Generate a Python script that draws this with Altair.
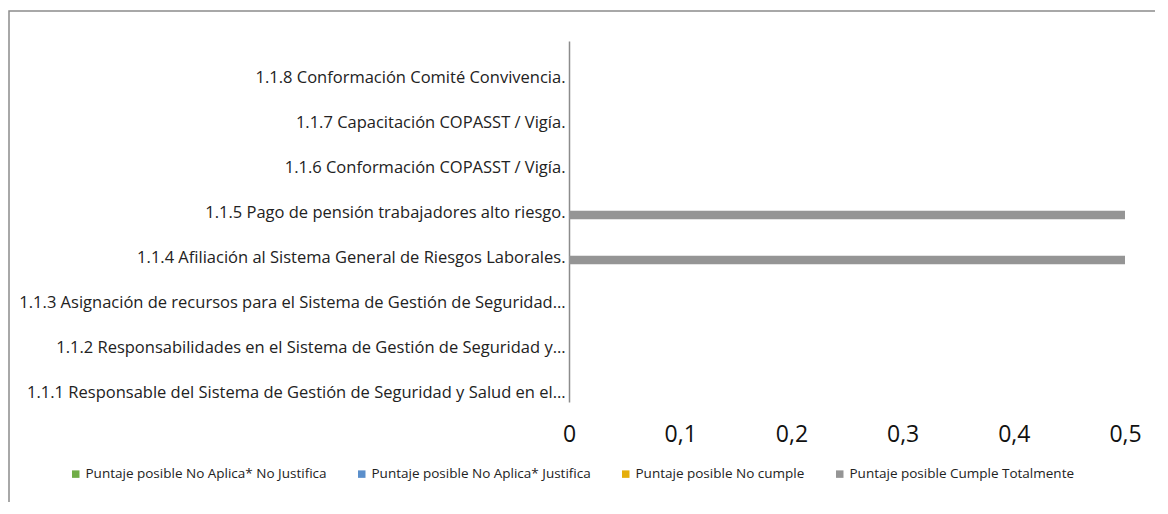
import altair as alt
import pandas as pd

categories = [
    "1.1.8 Conformación Comité Convivencia.",
    "1.1.7 Capacitación COPASST / Vigía.",
    "1.1.6 Conformación COPASST / Vigía.",
    "1.1.5 Pago de pensión trabajadores alto riesgo.",
    "1.1.4 Afiliación al Sistema General de Riesgos Laborales.",
    "1.1.3 Asignación de recursos para el Sistema de Gestión de Seguridad…",
    "1.1.2 Responsabilidades en el Sistema de Gestión de Seguridad y…",
    "1.1.1 Responsable del Sistema de Gestión de Seguridad y Salud en el…",
]
series = [
    "Puntaje posible No Aplica* No Justifica",
    "Puntaje posible No Aplica* Justifica",
    "Puntaje posible No cumple",
    "Puntaje posible Cumple Totalmente",
]
no_aplica_no_justifica = [0, 0, 0, 0, 0, 0, 0, 0]
no_aplica_justifica = [0, 0, 0, 0, 0, 0, 0, 0]
no_cumple = [0, 0, 0, 0, 0, 0, 0, 0]
cumple_totalmente = [0, 0, 0, 0.5, 0.5, 0, 0, 0]
x_ticks = [0, 0.1, 0.2, 0.3, 0.4, 0.5]
colors = ["#70AD47", "#5B8FCB", "#E5AE0B", "#959595"]

values = [no_aplica_no_justifica, no_aplica_justifica, no_cumple, cumple_totalmente]
rows = []
for s, vals in zip(series, values):
    for c, v in zip(categories, vals):
        rows.append({"cat": c, "series": s, "value": v})
df = pd.DataFrame(rows)

FONT = "Open Sans"

bars = alt.Chart(df).mark_bar().encode(
    y=alt.Y("cat:N", sort=categories,
            scale=alt.Scale(paddingInner=0.1, paddingOuter=0.05),
            axis=alt.Axis(title=None, ticks=False, grid=False, domainColor="#8c8c8c",
                          domainWidth=1.5, labelFont=FONT, labelFontSize=16.5,
                          labelColor="#222222", labelOffset=14, labelPadding=4,
                          labelLimit=600)),
    yOffset=alt.YOffset("series:N", sort=series,
                        scale=alt.Scale(domain=series, paddingInner=0.2, paddingOuter=0)),
    x=alt.X("value:Q", scale=alt.Scale(domain=[0, 0.5], nice=False),
            axis=alt.Axis(title=None, values=x_ticks, domain=False,
                          ticks=False, grid=False, labelFont=FONT, labelFontSize=23,
                          labelColor="#111111", labelPadding=21, labelFlush=False,
                          labelExpr="replace(format(datum.value, '~g'), '.', ',')")),
    color=alt.Color("series:N", scale=alt.Scale(domain=series, range=colors),
                    legend=alt.Legend(title=None, orient="none", legendX=-500, legendY=426,
                                      direction="horizontal", columns=4,
                                      symbolType="square", symbolSize=56,
                                      symbolStrokeWidth=0, labelFont=FONT,
                                      labelFontSize=13.5, labelColor="#222222",
                                      columnPadding=28, labelOffset=3, labelLimit=400)),
)

frame = alt.Chart(pd.DataFrame({"a": [0]})).mark_rect(
    fill=None, stroke="#8c8c8c", strokeWidth=1.5
).encode(
    x=alt.value(-560), x2=alt.value(800), y=alt.value(-30), y2=alt.value(700)
)

chart = alt.layer(frame, bars).properties(
    width=556, height=361,
    autosize=alt.AutoSizeParams(type="none"),
    padding={"left": 561, "top": 33, "right": 30, "bottom": 100},
).configure_view(stroke=None)

chart.save("out.html", embed_options={"renderer": "svg", "actions": False})
